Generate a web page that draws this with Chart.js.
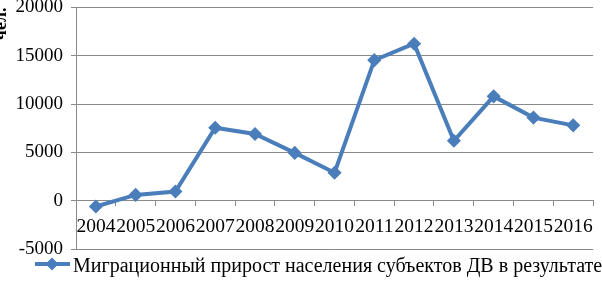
<!DOCTYPE html>
<html>
<head>
<meta charset="utf-8">
<script src="https://cdn.jsdelivr.net/npm/chart.js@4/dist/chart.umd.min.js"></script>
<style>
  html, body { margin: 0; padding: 0; background: #ffffff; }
  #wrap { width: 602px; height: 281px; }
</style>
</head>
<body>
<div id="wrap"><canvas id="c" width="602" height="281"></canvas></div>
<script>
const categories = ['2004', '2005', '2006', '2007', '2008', '2009', '2010', '2011', '2012', '2013', '2014', '2015', '2016'];
const migrationGrowth = [-600, 600, 950, 7550, 6900, 4950, 2900, 14550, 16250, 6200, 10800, 8600, 7800];
const yTickValues = [-5000, 0, 5000, 10000, 15000, 20000];
const seriesLabel = 'Миграционный прирост населения субъектов ДВ в результате';
const yAxisTitle = 'чел.';

const FONT = 'Liberation Serif';
const BLUE = '#4a7ebb';
const GRID = '#8a8a8a';

const legendPlugin = {
  id: 'excelLegend',
  afterDraw(chart) {
    const ctx = chart.ctx;
    ctx.save();
    ctx.strokeStyle = BLUE;
    ctx.lineWidth = 4;
    ctx.beginPath();
    ctx.moveTo(35, 264);
    ctx.lineTo(70, 264);
    ctx.stroke();
    const cx = 52, cy = 264, r = 6.5;
    ctx.fillStyle = BLUE;
    ctx.beginPath();
    ctx.moveTo(cx, cy - r);
    ctx.lineTo(cx + r, cy);
    ctx.lineTo(cx, cy + r);
    ctx.lineTo(cx - r, cy);
    ctx.closePath();
    ctx.fill();
    ctx.fillStyle = '#000000';
    ctx.font = '20px "' + FONT + '"';
    ctx.textBaseline = 'alphabetic';
    ctx.textAlign = 'left';
    ctx.fillText(chart.data.datasets[0].label, 73, 272);
    ctx.restore();
  }
};

new Chart(document.getElementById('c'), {
  type: 'line',
  data: {
    labels: categories,
    datasets: [{
      label: seriesLabel,
      data: migrationGrowth,
      borderColor: BLUE,
      backgroundColor: BLUE,
      borderWidth: 4,
      tension: 0,
      pointStyle: 'rectRot',
      pointRadius: 6,
      pointBorderWidth: 1.5,
      pointBackgroundColor: BLUE,
      pointBorderColor: BLUE
    }]
  },
  options: {
    responsive: false,
    animation: false,
    devicePixelRatio: 1,
    layout: { padding: { top: 7, bottom: 32, left: 0, right: 0 } },
    plugins: {
      legend: { display: false },
      tooltip: { enabled: false }
    },
    scales: {
      x: {
        type: 'category',
        offset: true,
        position: { y: 0 },
        grid: {
          display: true,
          drawOnChartArea: false,
          drawTicks: true,
          tickLength: 5,
          offset: true,
          color: GRID,
          lineWidth: 1
        },
        border: { display: true, color: GRID, width: 1 },
        ticks: {
          color: '#000000',
          font: { family: FONT, size: 19.5 },
          padding: 9,
          maxRotation: 0,
          minRotation: 0,
          autoSkip: false
        }
      },
      y: {
        min: -5000,
        max: 20000,
        afterBuildTicks(scale) {
          scale.ticks = yTickValues.map(v => ({ value: v }));
        },
        afterFit(scale) {
          scale.width = 76;
          scale.paddingTop = 0;
          scale.paddingBottom = 0;
        },
        grid: {
          color: GRID,
          lineWidth: 1,
          drawTicks: true,
          tickLength: 5
        },
        border: { display: true, color: GRID, width: 1 },
        ticks: {
          color: '#000000',
          font: { family: FONT, size: 19 },
          padding: 8,
          callback: (v) => String(v)
        },
        title: {
          display: true,
          text: yAxisTitle,
          align: 'end',
          color: '#000000',
          font: { family: FONT, size: 18, weight: 'bold' },
          padding: { top: -9, bottom: 0 }
        }
      }
    }
  },
  plugins: [legendPlugin]
});
</script>
</body>
</html>
